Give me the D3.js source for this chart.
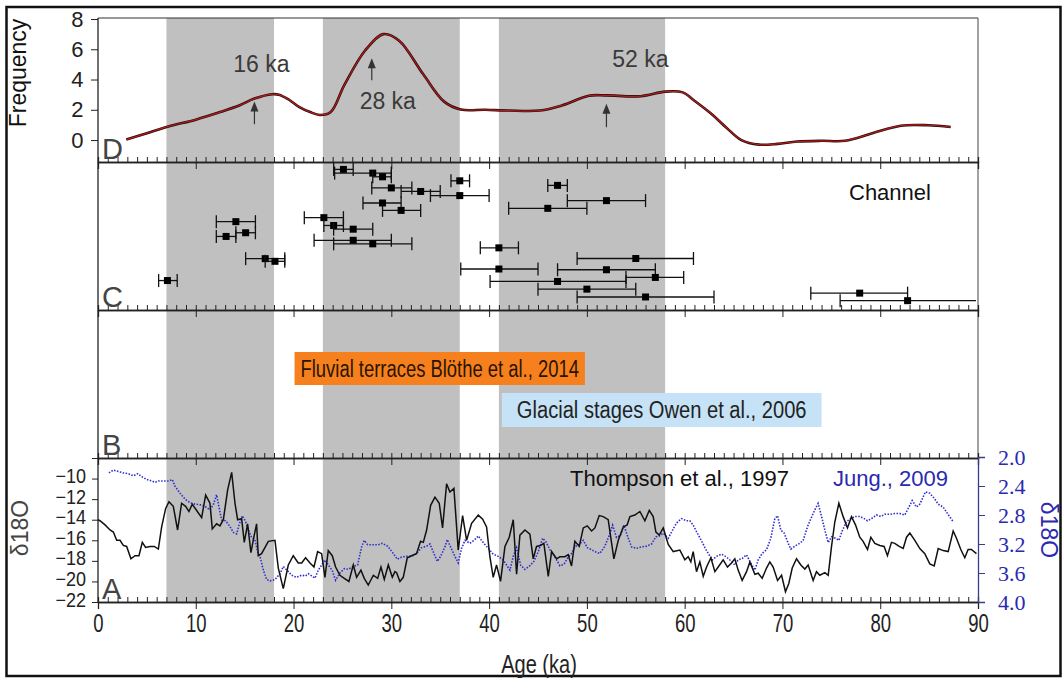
<!DOCTYPE html>
<html><head><meta charset="utf-8">
<script src="https://cdn.jsdelivr.net/npm/d3@7"></script>
<style>body{margin:0;background:#fff}svg{display:block}</style>
</head><body><svg id="c" width="1063" height="679"></svg>
<script>
// ---------------- DATA ----------------
const bands = [[7,18],[23,37],[41,58]];
const xTicks = [0,10,20,30,40,50,60,70,80,90];
const freqTicks = [0,2,4,6,8];
const d18Ticks = [-22,-20,-18,-16,-14,-12,-10,-8];
const jungTicks = [2.0,2.4,2.8,3.2,3.6,4.0];

const freqAge = [2.9,5,7.2,10,12.5,14.5,16,17.8,18.5,19.5,20.6,21.7,22.7,23.8,25.2,27.3,29.2,30.8,33.3,35.4,37.1,39.6,42,45.2,47.5,50.2,52,55.5,58.0,59.8,61,62.6,64.3,65.8,67.6,69.5,71.5,74,76.4,79.2,82.1,84.9,87.2];
const freqVal = [0.03,0.45,0.9,1.35,1.85,2.3,2.74,3.03,3.0,2.68,2.18,1.85,1.66,1.85,3.64,5.9,7.0,6.56,4.31,2.54,2.02,2.0,1.95,1.95,2.3,2.93,2.95,2.9,3.2,3.15,2.6,1.8,0.8,0.0,-0.3,-0.25,-0.1,-0.05,-0.05,0.45,0.95,0.98,0.86];
const peakLabels = ["16 ka","28 ka","52 ka"];
const peakAges = [16,28,52];

const chanAge  = [25.1,28.1,29.1,30.0,33.0,37.0,37.0,29.1,31.0,14.1,15.1,13.1,17.1,18.1,7.1,23.1,24.1,26.1,26.1,28.1,41.0,41.0,47.0,52.0,46.0,55.0,52.0,57.0,47.0,50.0,56.0,77.9,82.8];
const chanLo   = [24.1,24.2,28.1,28.0,31.0,36.1,34.0,27.1,29.1,12.1,14.1,12.1,15.1,17.1,6.2,21.1,23.1,24.1,22.1,24.1,39.1,37.1,46.0,48.0,42.0,49.0,47.0,54.0,40.1,45.0,49.0,72.9,75.9];
const chanHi   = [26.1,30.0,30.0,32.1,35.0,38.0,40.0,31.0,33.0,16.1,16.1,14.1,19.1,19.1,8.1,25.1,25.1,28.1,30.0,32.1,43.0,45.0,48.0,56.0,50.0,60.9,57.0,59.9,54.0,55.0,63.0,82.8,89.8];
const chanRank = [95.0,92.5,90.0,82.5,80.1,87.3,77.3,72.3,67.3,59.7,52.2,49.7,34.7,32.9,19.9,62.4,57.1,54.6,47.1,44.7,42.0,27.7,84.2,73.9,68.7,34.8,27.2,22.0,19.3,14.1,8.8,11.4,6.3];

const thompsonAge = [0,0.2,0.72,1.23,1.57,1.91,2.25,2.59,2.93,3.37,3.78,4.19,4.53,4.87,5.32,5.76,6.17,6.51,6.92,7.26,7.70,8.14,8.55,8.96,9.30,9.64,10.09,10.60,11.01,11.45,11.69,12.13,12.47,12.82,13.26,13.67,14.01,14.28,14.69,14.96,15.30,15.64,15.98,16.22,16.39,16.73,17.42,18.10,18.44,18.95,19.46,19.97,20.48,20.83,21.23,21.68,22.09,22.46,22.87,23.21,23.55,23.96,24.30,24.74,25.19,25.66,26.11,26.45,26.89,27.23,27.64,28.16,28.60,28.94,29.28,29.69,30.10,30.37,
30.54,30.88,31.22,31.63,32.07,32.58,32.99,33.27,33.61,34.02,34.46,34.90,35.24,35.65,35.99,36.40,36.84,37.29,37.70,38.21,38.89,39.34,39.74,40.08,40.42,40.76,41.17,41.62,42.06,42.47,42.81,43.15,43.66,44.17,44.51,44.85,45.26,45.60,46.05,46.39,46.90,47.24,47.75,48.09,48.43,48.77,49.22,49.63,50.04,50.48,50.82,51.26,51.67,52.18,52.76,53.21,53.72,54.12,54.40,54.91,55.42,55.93,56.38,56.78,57.06,57.40,57.81,58.32,58.83,59.51,
60.02,60.36,60.63,60.87,61.21,61.55,61.90,62.24,62.68,63.09,63.43,63.94,64.38,64.79,65.13,65.47,65.88,66.33,66.67,67.18,67.52,67.93,68.37,68.71,69.05,69.50,69.91,70.31,70.65,71.00,71.44,71.88,72.29,72.63,73.14,73.48,73.82,74.34,74.68,75.02,75.36,75.77,76.21,76.65,77.06,77.47,77.91,78.25,78.70,79.04,79.45,79.96,80.40,80.74,81.15,81.49,81.94,82.35,82.69,83.03,83.54,84.05,84.56,85.07,85.52,85.93,86.44,86.95,87.46,87.80,88.24,88.65,88.99,89.33,89.84];
const thompsonVal = [-14.0,-14.1,-14.5,-15.0,-15.2,-16.0,-16.0,-16.5,-16.6,-17.8,-17.5,-17.5,-16.2,-16.7,-16.6,-16.6,-16.85,-14.7,-12.9,-12.25,-12.7,-15.0,-12.4,-12.7,-13.2,-12.5,-13.1,-13.8,-11.6,-12.4,-14.9,-14.4,-14.6,-14.0,-11.1,-9.4,-12.4,-14.0,-13.9,-16.2,-14.4,-17.2,-15.5,-14.4,-17.5,-17.3,-16.1,-16.0,-18.7,-20.7,-18.4,-17.5,-18.2,-18.2,-17.7,-18.2,-18.6,-17.1,-17.3,-19.6,-17.0,-17.5,-18.6,-19.4,-19.7,-20.0,-18.4,-19.6,-18.9,-19.7,-20.35,-19.4,-19.7,-18.6,-19.8,-18.4,-19.6,-19.05,
-19.15,-20.0,-19.6,-17.7,-17.5,-17.3,-16.1,-16.2,-15.0,-12.6,-11.8,-12.4,-14.8,-10.5,-11.3,-10.95,-16.95,-13.6,-16.0,-14.35,-13.55,-13.95,-14.7,-17.6,-19.6,-18.4,-20.0,-16.6,-15.7,-14.0,-19.3,-15.5,-15.0,-15.4,-17.8,-16.6,-16.5,-16.3,-19.5,-17.1,-17.8,-17.6,-17.6,-17.4,-18.5,-16.1,-16.6,-14.8,-14.6,-15.1,-14.8,-13.6,-13.7,-14.0,-17.8,-16.0,-14.7,-14.5,-13.7,-13.55,-13.2,-14.1,-13.1,-13.7,-15.2,-15.5,-14.8,-16.4,-17.1,-16.95,
-17.9,-17.6,-18.1,-17.1,-19.05,-18.1,-19.5,-18.6,-17.7,-19.05,-18.6,-17.9,-18.6,-18.2,-17.8,-18.9,-19.9,-19.05,-18.1,-19.3,-19.2,-19.7,-18.7,-18.1,-18.6,-19.9,-19.4,-21.0,-20.2,-18.7,-17.8,-18.4,-18.8,-18.4,-19.9,-19.05,-19.4,-19.15,-19.4,-16.6,-14.2,-12.4,-13.7,-14.8,-13.7,-14.5,-15.7,-16.1,-16.9,-15.7,-16.3,-16.5,-16.6,-17.5,-16.2,-16.3,-16.6,-16.8,-15.7,-15.3,-16.0,-16.8,-17.3,-18.3,-18.5,-16.8,-17.0,-17.1,-15.1,-15.8,-16.9,-17.7,-16.9,-16.9,-17.3];

const jungAge = [1.12,1.57,2.08,2.59,3.10,3.61,4.06,4.47,4.98,5.49,5.83,6.17,6.68,7.26,7.60,7.87,8.39,8.90,9.41,9.92,10.53,10.94,11.45,11.79,12.13,12.37,12.65,13.05,13.50,13.84,14.18,14.42,14.76,15.10,15.37,15.71,16.05,16.33,16.56,16.91,17.25,17.59,18.10,18.61,18.95,19.39,19.80,20.31,20.83,21.23,21.51,21.85,22.19,22.53,22.87,23.21,23.62,23.96,24.30,24.74,25.19,25.60,26.11,26.55,26.96,27.23,27.57,28.15,28.66,29.07,29.62,
30.20,30.61,31.05,31.56,32.07,32.58,33.10,33.61,33.95,34.29,34.70,35.04,35.48,35.72,36.06,36.50,36.84,37.18,37.53,38.04,38.45,38.89,39.40,39.91,40.42,40.93,41.44,41.78,42.13,42.47,42.81,43.22,43.66,44.17,44.58,45.02,45.47,45.81,46.22,46.73,47.24,47.65,48.09,48.43,48.77,49.28,49.63,50.04,50.48,50.92,51.33,51.84,52.29,52.63,53.03,53.44,53.78,54.23,54.57,55.08,55.59,56.10,56.61,57.06,57.40,57.81,58.32,58.76,59.17,59.68,60.19,
60.53,60.87,61.21,61.66,62.07,62.41,62.82,63.26,63.77,64.28,64.79,65.13,65.47,65.88,66.33,66.67,67.18,67.52,67.93,68.37,68.81,69.22,69.50,69.84,70.18,70.59,70.86,71.27,71.78,72.12,72.57,72.91,73.31,73.65,74.00,74.34,74.68,75.02,75.43,75.77,76.11,76.55,77.00,77.41,77.91,78.36,78.70,79.11,79.62,80.06,80.47,80.98,81.49,82.00,82.51,82.86,83.27,83.71,84.05,84.39,84.63,85.07,85.52,85.93,86.44,86.88,87.29,87.46];
const jungVal = [2.22,2.18,2.20,2.22,2.23,2.26,2.23,2.27,2.31,2.33,2.35,2.33,2.33,2.33,2.31,2.40,2.50,2.58,2.63,2.65,2.66,2.68,2.73,2.66,2.52,2.69,2.87,2.88,2.96,3.04,3.06,2.94,2.81,2.89,3.00,3.11,3.14,3.31,3.37,3.56,3.69,3.71,3.69,3.61,3.51,3.57,3.63,3.66,3.63,3.64,3.61,3.64,3.67,3.56,3.49,3.42,3.50,3.57,3.70,3.60,3.54,3.55,3.51,3.49,3.24,3.15,3.21,3.21,3.21,3.19,3.23,
3.33,3.41,3.38,3.37,3.37,3.33,3.25,3.23,3.20,3.31,3.44,3.37,3.24,3.14,3.24,3.37,3.46,3.26,3.15,3.19,3.15,3.09,3.18,3.26,3.34,3.37,3.42,3.49,3.56,3.37,3.25,3.49,3.55,3.50,3.44,3.31,3.12,3.17,3.28,3.38,3.50,3.48,3.38,3.33,3.24,3.20,3.15,3.25,3.28,3.31,3.33,3.23,3.08,2.94,3.11,3.08,2.94,3.12,3.24,3.26,3.24,3.23,3.20,3.10,3.09,3.05,3.12,3.01,2.91,2.85,2.88,
2.88,2.94,3.03,3.14,3.25,3.33,3.42,3.37,3.34,3.38,3.44,3.49,3.42,3.40,3.35,3.44,3.56,3.42,3.33,3.28,3.12,2.85,2.81,3.01,3.05,3.19,3.27,3.23,3.19,3.15,2.96,2.85,2.73,2.64,2.82,3.01,3.18,3.10,3.12,3.15,3.02,2.89,2.85,2.82,2.82,2.85,2.88,2.85,2.80,2.82,2.79,2.79,2.78,2.78,2.80,2.71,2.60,2.69,2.65,2.55,2.48,2.50,2.57,2.65,2.69,2.78,2.86,2.89];

const noteText = ["Fluvial terraces Blöthe et al., 2014","Glacial stages Owen et al., 2006"];
const noteStart = [20.1,41.3];
const noteEnd = [49.8,74.0];
const noteColor = ["#f7801e","#c6e2f6"];

// ---------------- LAYOUT ----------------
const svg = d3.select("#c");
const X0 = 98, X1 = 978;
const P = {D:[18,162], C:[162,310], B:[310,458], A:[458,602]};
const SANS = "'Liberation Sans',Arial,sans-serif";
// condense a text selection horizontally (narrow-font look)
function narrow(sel, k){
  sel.each(function(){
    const w = this.getComputedTextLength();
    if(w>0){ d3.select(this).attr("textLength", w*k).attr("lengthAdjust","spacingAndGlyphs"); }
  });
}

const x = d3.scaleLinear().domain([0,90]).range([X0,X1]);
const yD = d3.scaleLinear().domain([-1.45,8]).range([P.D[1],P.D[0]+1]);
const yC = d3.scaleLinear().domain([0,100]).range([P.C[1],P.C[0]]);
const yT = d3.scaleLinear().domain([-22,-8]).range([P.A[1],P.A[0]]);
const yJ = d3.scaleLinear().domain([2.0,4.0]).range([P.A[0]-1,P.A[1]]);

// outer frame
svg.append("rect").attr("x",6.5).attr("y",7).attr("width",1054).attr("height",669)
  .attr("fill","none").attr("stroke","#111").attr("stroke-width",2.5);

// grey bands
svg.selectAll("rect.band").data(bands).join("rect").attr("class","band")
  .attr("x",d=>x(d[0])).attr("width",d=>x(d[1])-x(d[0]))
  .attr("y",P.D[0]).attr("height",P.A[1]-P.D[0]).attr("fill","#c0c0c0");

// panel frame lines
svg.append("line").attr("x1",X0).attr("x2",X1).attr("y1",P.D[0]).attr("y2",P.D[0]).attr("stroke","#333").attr("stroke-width",1);
svg.append("line").attr("x1",X0).attr("x2",X0).attr("y1",P.D[0]).attr("y2",P.A[1]).attr("stroke","#222").attr("stroke-width",1.3);
svg.append("line").attr("x1",X1).attr("x2",X1).attr("y1",P.D[0]).attr("y2",P.A[0]).attr("stroke","#444").attr("stroke-width",1);

// bottom axes of each panel: minor ticks up, major ticks down
const minor = d3.range(0,91,1);
[P.D[1],P.C[1],P.B[1],P.A[1]].forEach((yy,i)=>{
  const gUp = svg.append("g").attr("transform",`translate(0,${yy})`)
    .call(d3.axisTop(x).tickValues(minor).tickSize(5).tickFormat(""));
  const gDn = svg.append("g").attr("transform",`translate(0,${yy})`)
    .call(d3.axisBottom(x).tickValues(xTicks).tickSize(7).tickFormat(i===3?d3.format("d"):""));
  [gUp,gDn].forEach(g=>{g.select(".domain").attr("stroke","#222").attr("stroke-width",1.3);
    g.selectAll(".tick line").attr("stroke","#222").attr("stroke-width",1);});
  if(i===3){
    gDn.selectAll("text").attr("font-family",SANS).attr("font-size",25).attr("fill","#222").attr("dy","0.8em").call(narrow,0.74);
  }
});

// left axis D
const gD = svg.append("g").attr("transform",`translate(${X0},0)`)
  .call(d3.axisLeft(yD).tickValues(freqTicks).tickSize(7).tickFormat(d3.format("d")));
gD.select(".domain").remove();
gD.selectAll(".tick line").attr("stroke","#222");
gD.selectAll("text").attr("font-family",SANS).attr("font-size",22).attr("fill","#222").attr("dx","-0.2em");

// left axis A
const gA = svg.append("g").attr("transform",`translate(${X0},0)`)
  .call(d3.axisLeft(yT).tickValues(d18Ticks).tickSize(6).tickFormat(d=>d===-8?"":d3.format("d")(d)));
gA.select(".domain").remove();
gA.selectAll(".tick line").attr("stroke","#222");
gA.selectAll("text").attr("font-family",SANS).attr("font-size",20).attr("fill","#222").attr("dx","-0.15em").attr("dy","0.2em").call(narrow,0.9);

// right axis A (Jung)
const blue = "#2a2ab0";
const gR = svg.append("g").attr("transform",`translate(${X1},0)`)
  .call(d3.axisRight(yJ).tickValues(jungTicks).tickSize(7).tickFormat(d3.format(".1f")));
gR.select(".domain").attr("stroke","#3c3c8c").attr("stroke-width",1.3);
gR.selectAll(".tick line").attr("stroke","#3c3c8c");
gR.selectAll("text").attr("font-family","'Liberation Serif','Times New Roman',serif").attr("font-size",22).attr("fill",blue).attr("dx","0.45em");

// ---------------- PANEL D ----------------
const line = d3.line().curve(d3.curveCatmullRom.alpha(0.5));
const fpts = freqAge.map((a,i)=>[x(a),yD(freqVal[i])]);
svg.append("path").attr("d",line(fpts)).attr("fill","none").attr("stroke","#2a0a0a").attr("stroke-width",2.6);
svg.append("path").attr("d",line(fpts)).attr("fill","none").attr("stroke","#b01e1e").attr("stroke-width",1.2);

const peakLabelY = [4.5,2.05,4.85];
const arrowTop = [2.55,5.4,2.4];
const arrowBot = [1.05,3.95,0.85];
const labelDx = [7,16,34];
peakAges.forEach((a,i)=>{
  svg.append("text").attr("x",x(a)+labelDx[i]).attr("y",yD(peakLabelY[i])).attr("text-anchor","middle")
    .attr("font-family",SANS).attr("font-size",23).attr("fill","#3a3a3a").text(peakLabels[i]);
  const ax = x(a), yt = yD(arrowTop[i]), yb = yD(arrowBot[i]);
  svg.append("line").attr("x1",ax).attr("x2",ax).attr("y1",yt+7).attr("y2",yb).attr("stroke","#333").attr("stroke-width",1.2);
  svg.append("path").attr("d",`M${ax},${yt} L${ax-4},${yt+10} L${ax+4},${yt+10} Z`).attr("fill","#333");
});

svg.append("text").attr("transform",`translate(26,73) rotate(-90)`).attr("text-anchor","middle")
  .attr("font-family",SANS).attr("font-size",23).attr("fill","#111").text("Frequency");

// ---------------- PANEL C ----------------
const cg = svg.append("g");
chanAge.forEach((a,i)=>{
  const yy = yC(chanRank[i]);
  cg.append("line").attr("x1",x(chanLo[i])).attr("x2",Math.min(x(chanHi[i]),X1)).attr("y1",yy).attr("y2",yy).attr("stroke","#111").attr("stroke-width",1.3);
  [chanLo[i],chanHi[i]].forEach(v=>{ if(v<89.5) cg.append("line").attr("x1",x(v)).attr("x2",x(v)).attr("y1",yy-6.5).attr("y2",yy+6.5).attr("stroke","#111").attr("stroke-width",1.3);});
  cg.append("rect").attr("x",x(a)-3.5).attr("y",yy-3.5).attr("width",7).attr("height",7).attr("fill","#000");
});
svg.append("text").attr("x",849).attr("y",200).attr("font-family",SANS).attr("font-size",22).attr("fill","#111").text("Channel");

// ---------------- PANEL B ----------------
const noteY = [352,393];
const noteH = [33,34];
noteText.forEach((t,i)=>{
  const bx0 = x(noteStart[i]), bx1 = x(noteEnd[i]);
  svg.append("rect").attr("x",bx0).attr("width",bx1-bx0)
    .attr("y",noteY[i]).attr("height",noteH[i]).attr("fill",noteColor[i]);
  const tx = svg.append("text").attr("x",(bx0+bx1)/2).attr("y",noteY[i]+noteH[i]/2+8)
    .attr("text-anchor","middle").attr("font-family",SANS).attr("font-size",23).attr("fill",i===0?"#2a1400":"#222").text(t);
  tx.attr("textLength",(bx1-bx0)-(i===0?12:30)).attr("lengthAdjust","spacingAndGlyphs");
});

// ---------------- PANEL A ----------------
svg.append("path").attr("d",d3.line()(jungAge.map((a,i)=>[x(a),yJ(jungVal[i])])))
  .attr("fill","none").attr("stroke","#2c2cd0").attr("stroke-width",1.6).attr("stroke-dasharray","1.5,1.5");
svg.append("path").attr("d",d3.line()(thompsonAge.map((a,i)=>[x(a),yT(thompsonVal[i])])))
  .attr("fill","none").attr("stroke","#111").attr("stroke-width",1.5);

svg.append("text").attr("x",570).attr("y",486).attr("font-family",SANS).attr("font-size",22).attr("fill","#111").text("Thompson et al., 1997");
svg.append("text").attr("x",833).attr("y",486).attr("font-family",SANS).attr("font-size",22).attr("fill",blue).text("Jung., 2009");

svg.append("text").attr("transform",`translate(28,528) rotate(-90)`).attr("text-anchor","middle")
  .attr("font-family",SANS).attr("font-size",23).attr("fill","#444").text("δ18O");
svg.append("text").attr("transform",`translate(1041,530) rotate(90)`).attr("text-anchor","middle")
  .attr("font-family",SANS).attr("font-size",23).attr("fill",blue).text("δ18O");

// panel letters
[["D",P.D[1]],["C",P.C[1]],["B",P.B[1]],["A",P.A[1]]].forEach(([t,yy])=>{
  svg.append("text").attr("x",102).attr("y",yy-3).attr("font-family",SANS).attr("font-size",29).attr("fill","#444").text(t);
});

svg.append("text").attr("x",539).attr("y",673).attr("text-anchor","middle").attr("font-family",SANS)
  .attr("font-size",25).attr("fill","#222").text("Age (ka)").call(narrow,0.8);
</script></body></html>
